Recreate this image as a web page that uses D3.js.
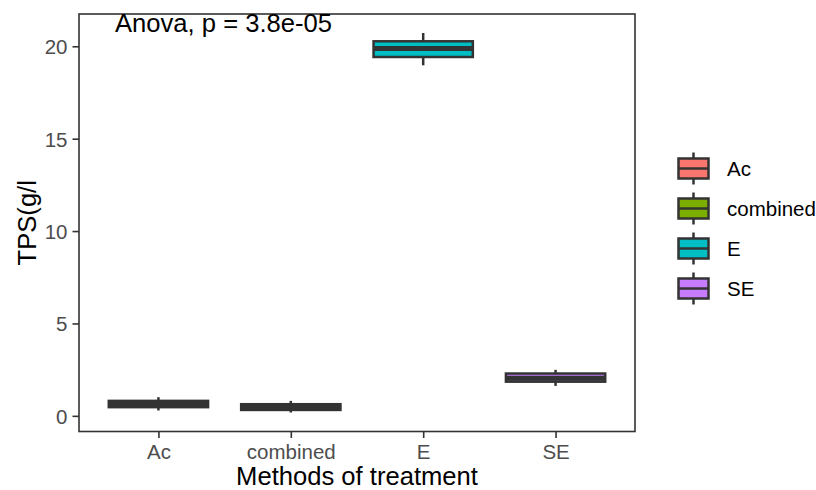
<!DOCTYPE html>
<html>
<head>
<meta charset="utf-8">
<script src="https://cdn.jsdelivr.net/npm/d3@7"></script>
<style>
  html, body { margin: 0; padding: 0; background: #fff; }
  svg { display: block; font-family: "Liberation Sans", Arial, Helvetica, sans-serif; }
</style>
</head>
<body>
<svg id="chart" width="816" height="490"></svg>
<script>
// ---- data ----
const categories = ["Ac", "combined", "E", "SE"];
const lowerWhisker = [0.29, 0.18, 18.97, 1.62];
const q1Values     = [0.47, 0.32, 19.42, 1.85];
const medians      = [0.64, 0.48, 19.88, 2.03];
const q3Values     = [0.81, 0.63, 20.27, 2.29];
const upperWhisker = [1.01, 0.81, 20.72, 2.49];
const fillColors   = ["#F8766D", "#7CAE00", "#00BFC4", "#C77CFF"];
const yTickValues  = [0, 5, 10, 15, 20];
const annotation   = "Anova, p = 3.8e-05";
const xTitle = "Methods of treatment";
const yTitle = "TPS(g/l";

// ---- layout ----
const panel = { left: 79, right: 635, top: 14, bottom: 431.5 };
const lw = 2.5, stroke = "#333333";

const svg = d3.select("#chart");

const x = d3.scalePoint().domain(categories).range([panel.left, panel.right]).padding(0.6);
const ymin = d3.min(lowerWhisker), ymax = d3.max(upperWhisker);
const pad = (ymax - ymin) * 0.05;
const y = d3.scaleLinear().domain([ymin - pad, ymax + pad]).range([panel.bottom, panel.top]);
const boxW = x.step() * 0.75;

const boxes = categories.map((c, i) => ({
  c, lo: lowerWhisker[i], q1: q1Values[i], med: medians[i], q3: q3Values[i], hi: upperWhisker[i], fill: fillColors[i]
}));

// panel background
svg.append("rect").attr("x", panel.left).attr("y", panel.top)
  .attr("width", panel.right - panel.left).attr("height", panel.bottom - panel.top)
  .attr("fill", "#fff");

// boxes
const g = svg.append("g");
boxes.forEach(b => {
  const cx = x(b.c);
  g.append("line").attr("x1", cx).attr("x2", cx).attr("y1", y(b.hi)).attr("y2", y(b.q3))
    .attr("stroke", stroke).attr("stroke-width", lw);
  g.append("line").attr("x1", cx).attr("x2", cx).attr("y1", y(b.q1)).attr("y2", y(b.lo))
    .attr("stroke", stroke).attr("stroke-width", lw);
  g.append("rect").attr("x", cx - boxW / 2).attr("y", y(b.q3))
    .attr("width", boxW).attr("height", y(b.q1) - y(b.q3))
    .attr("fill", b.fill).attr("stroke", stroke).attr("stroke-width", lw);
  g.append("line").attr("x1", cx - boxW / 2).attr("x2", cx + boxW / 2)
    .attr("y1", y(b.med)).attr("y2", y(b.med))
    .attr("stroke", stroke).attr("stroke-width", lw * 2);
});

// panel border
svg.append("rect").attr("x", panel.left).attr("y", panel.top)
  .attr("width", panel.right - panel.left).attr("height", panel.bottom - panel.top)
  .attr("fill", "none").attr("stroke", stroke).attr("stroke-width", 1.6);

// axes
const yAxis = d3.axisLeft(y).tickValues(yTickValues).tickSize(6.5).tickPadding(5);
const yg = svg.append("g").attr("transform", `translate(${panel.left},0)`).call(yAxis);
const xAxis = d3.axisBottom(x).tickSize(6.5).tickPadding(4);
const xg = svg.append("g").attr("transform", `translate(0,${panel.bottom})`).call(xAxis);
[yg, xg].forEach(a => {
  a.select(".domain").remove();
  a.selectAll(".tick line").attr("stroke", stroke).attr("stroke-width", 1.6);
  a.selectAll(".tick text").attr("fill", "#4D4D4D").style("font-size", "20.5px")
    .style("font-family", "'Liberation Sans', Arial, sans-serif");
});
yg.selectAll(".tick text").attr("dy", "0.36em");
xg.selectAll(".tick text").attr("dy", "0.85em");

// axis titles
svg.append("text").attr("x", (panel.left + panel.right) / 2).attr("y", 484.5)
  .attr("text-anchor", "middle").attr("fill", "#000").style("font-size", "25.6px").text(xTitle);
svg.append("text").attr("transform", `translate(36,${(panel.top + panel.bottom) / 2}) rotate(-90)`)
  .attr("text-anchor", "middle").attr("fill", "#000").style("font-size", "25.6px").text(yTitle);

// annotation
svg.append("text").attr("x", 115).attr("y", 31.5)
  .attr("fill", "#000").style("font-size", "25.6px").text(annotation);

// legend
const keySize = 40, legX = 673.5, legY0 = 148.5;
const leg = svg.append("g");
categories.forEach((c, i) => {
  const ky = legY0 + i * keySize;
  const kcx = legX + keySize / 2;
  const k = leg.append("g");
  k.append("line").attr("x1", kcx).attr("x2", kcx).attr("y1", ky + keySize * 0.1).attr("y2", ky + keySize * 0.25)
    .attr("stroke", stroke).attr("stroke-width", lw);
  k.append("line").attr("x1", kcx).attr("x2", kcx).attr("y1", ky + keySize * 0.75).attr("y2", ky + keySize * 0.9)
    .attr("stroke", stroke).attr("stroke-width", lw);
  k.append("rect").attr("x", legX + keySize * 0.125).attr("y", ky + keySize * 0.25)
    .attr("width", keySize * 0.75).attr("height", keySize * 0.5)
    .attr("fill", fillColors[i]).attr("stroke", stroke).attr("stroke-width", lw);
  k.append("line").attr("x1", legX + keySize * 0.125).attr("x2", legX + keySize * 0.875)
    .attr("y1", ky + keySize / 2).attr("y2", ky + keySize / 2)
    .attr("stroke", stroke).attr("stroke-width", lw);
  leg.append("text").attr("x", 727).attr("y", ky + keySize / 2).attr("dy", "0.36em")
    .attr("fill", "#000").style("font-size", "20.5px").text(c);
});
</script>
</body>
</html>
